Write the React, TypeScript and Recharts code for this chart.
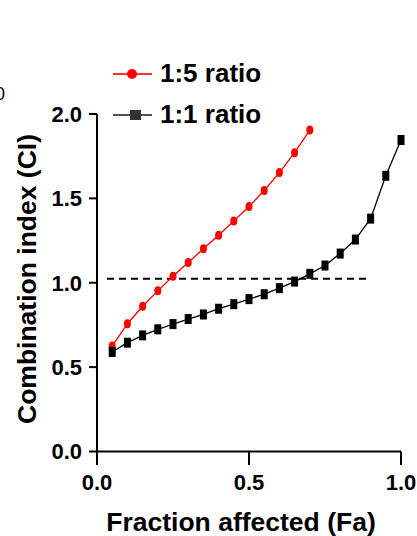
import {
  LineChart,
  Line,
  XAxis,
  YAxis,
  ReferenceLine,
  Legend,
  Customized
} from 'recharts';

const faValues = [0.05, 0.1, 0.15, 0.2, 0.25, 0.3, 0.35, 0.4, 0.45, 0.5, 0.55, 0.6, 0.65, 0.7, 0.75, 0.8, 0.85, 0.9, 0.95, 1.0];
const ratio15 = [0.625, 0.757, 0.861, 0.952, 1.039, 1.12, 1.201, 1.281, 1.366, 1.452, 1.547, 1.653, 1.771, 1.905];
const ratio11 = [0.59, 0.645, 0.688, 0.724, 0.755, 0.785, 0.812, 0.846, 0.873, 0.903, 0.932, 0.968, 1.007, 1.053, 1.102, 1.173, 1.256, 1.38, 1.634, 1.846];

const xMinorTicks = [0, 0.05, 0.1, 0.15, 0.2, 0.25, 0.3, 0.35, 0.4, 0.45, 0.5, 0.55, 0.6, 0.65, 0.7, 0.75, 0.8, 0.85, 0.9, 0.95, 1.0];
const xMajorTicks = [0, 0.5, 1.0];
const yTicks = [0, 0.5, 1.0, 1.5, 2.0];

// additivity line, slightly above CI = 1
const refY = 1.023;
const refFrom = 0.033;
const refTo = 0.9;

const seriesNames = ['1:5 ratio', '1:1 ratio'];

const table = faValues.map((fa, i) => ({
  fa,
  r15: i < ratio15.length ? ratio15[i] : null,
  r11: ratio11[i]
}));

const FONT = "'Liberation Sans', Arial, sans-serif";
const tickFont = { fontSize: 22, fontWeight: 700, fill: '#000', fontFamily: FONT };

const RedDot = (props: any) => {
  const { cx, cy, index } = props;
  if (cx == null || cy == null) return <g key={'r' + index} />;
  return <ellipse key={'r' + index} cx={cx} cy={cy} rx={3.5} ry={4.5} fill="#ff0000" />;
};

const BlackDot = (props: any) => {
  const { cx, cy, index } = props;
  return <rect key={'b' + index} x={cx - 3.5} y={cy - 5} width={7} height={10} fill="#000" />;
};

const LegendBox = () => (
  <div style={{ fontFamily: FONT, fontSize: 26, fontWeight: 700, color: '#000' }}>
    <div style={{ display: 'flex', alignItems: 'center', height: 41 }}>
      <svg width={39} height={14} style={{ marginRight: 8 }}>
        <line x1={0} y1={7} x2={39} y2={7} stroke="#ff3030" strokeWidth={2} />
        <circle cx={19} cy={7} r={5} fill="#ff0000" />
      </svg>
      <span>{seriesNames[0]}</span>
    </div>
    <div style={{ display: 'flex', alignItems: 'center', height: 41 }}>
      <svg width={39} height={14} style={{ marginRight: 8 }}>
        <line x1={0} y1={7} x2={39} y2={7} stroke="#555" strokeWidth={2} />
        <rect x={17} y={2} width={11} height={10} fill="#333" />
      </svg>
      <span>{seriesNames[1]}</span>
    </div>
  </div>
);

const Titles = () => (
  <g fontFamily={FONT} fontWeight={700} fill="#000">
    <text x={0} y={100} textAnchor="middle" fontSize={18} fontWeight={400}>0</text>
    <text x={241} y={531} textAnchor="middle" fontSize={26.5}>Fraction affected (Fa)</text>
    <text x={36} y={279} textAnchor="middle" fontSize={26.5} transform="rotate(-90, 36, 279)">
      Combination index (CI)
    </text>
  </g>
);

export default function App() {
  return (
    <div style={{ position: 'absolute', left: 0, top: 0, background: '#fff' }}>
      <LineChart width={417} height={536} data={table} margin={{ top: 114, right: 16, bottom: 43.5, left: 37 }}>
        {/* minor ticks only (an axis of height 0 is not drawn, so 1px) */}
        <XAxis
          xAxisId="minor"
          dataKey="fa"
          type="number"
          domain={[0, 1]}
          ticks={xMinorTicks}
          interval={0}
          height={1}
          tickSize={8.5}
          tick={false}
          axisLine={false}
          tickLine={{ stroke: '#000', strokeWidth: 2 }}
        />
        <XAxis
          dataKey="fa"
          type="number"
          domain={[0, 1]}
          ticks={xMajorTicks}
          interval={0}
          height={40}
          tickSize={13.5}
          tickMargin={9}
          stroke="#000"
          strokeWidth={2}
          axisLine
          tickLine={{ stroke: '#000', strokeWidth: 2 }}
          tickFormatter={(v: number) => v.toFixed(1)}
          tick={tickFont}
        />
        <YAxis
          type="number"
          domain={[0, 2]}
          ticks={yTicks}
          interval={0}
          width={60}
          tickSize={8}
          tickMargin={7}
          stroke="#000"
          strokeWidth={2}
          axisLine
          tickLine={{ stroke: '#000', strokeWidth: 2 }}
          tickFormatter={(v: number) => v.toFixed(1)}
          tick={tickFont}
        />
        <ReferenceLine
          segment={[{ x: refFrom, y: refY }, { x: refTo, y: refY }]}
          stroke="#000"
          strokeWidth={2}
          strokeDasharray="7 5"
        />
        <Line
          dataKey="r15"
          stroke="#ff0000"
          strokeWidth={1.3}
          dot={RedDot}
          activeDot={false}
          isAnimationActive={false}
        />
        <Line
          dataKey="r11"
          stroke="#000"
          strokeWidth={1.3}
          dot={BlackDot}
          activeDot={false}
          isAnimationActive={false}
        />
        <Legend
          layout="vertical"
          align="center"
          verticalAlign="middle"
          wrapperStyle={{ left: 113, top: 53, width: 'auto' }}
          content={<LegendBox />}
        />
        <Customized component={<Titles />} />
      </LineChart>
    </div>
  );
}
